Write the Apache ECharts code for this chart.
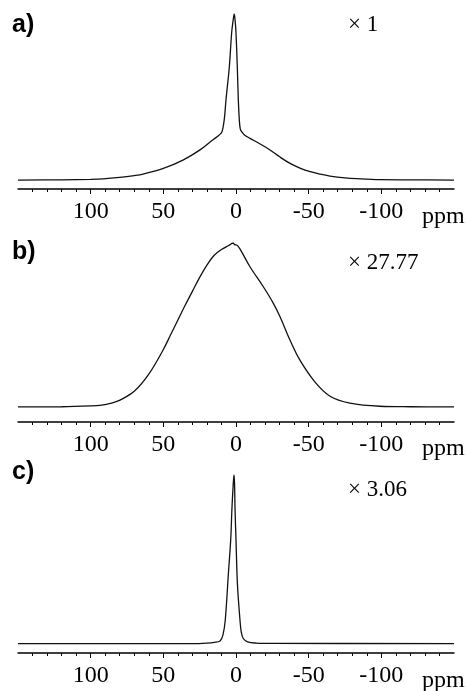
<!DOCTYPE html>
<html>
<head>
<meta charset="utf-8">
<script src="https://cdn.jsdelivr.net/npm/echarts@6/dist/echarts.min.js"></script>
<style>
  html, body { margin: 0; padding: 0; background: #fff; }
  #chart { width: 467px; height: 691px; }
</style>
</head>
<body>
<div id="chart"></div>
<script>
// Chemical shift axis (ppm, decreasing to the right)
const ppmMin = -150;
const ppmMax = 150;
const tickValues = [100, 50, 0, -50, -100];

// Spectrum a) — narrow line on a broad pattern (normalised intensity)
const ppmA = [150, 120, 100, 91.5, 80, 70, 64, 50, 36.5, 25, 17, 11, 9.5, 8, 6.9, 4.6, 3.0, 2.0, 1.2, 0.5, 0, -0.9, -1.6, -2.3, -2.9, -3.9, -6, -9.6, -16, -23.4, -30, -37.2, -44, -51, -58, -64.7, -75, -83, -99, -120, -150];
const valA = [0, 0.001, 0.004, 0.007, 0.016, 0.027, 0.036, 0.07, 0.12, 0.18, 0.235, 0.275, 0.295, 0.37, 0.482, 0.681, 0.886, 0.96, 1.0, 0.95, 0.886, 0.681, 0.482, 0.361, 0.31, 0.291, 0.27, 0.251, 0.22, 0.181, 0.14, 0.10, 0.072, 0.05, 0.035, 0.024, 0.013, 0.008, 0.002, 0.001, 0];

// Spectrum b) — broad line
const ppmB = [150, 120, 100, 93.6, 85, 79.8, 70, 60, 50, 45, 40, 35, 30, 25, 20, 15, 10, 5, 2, 1, -0.5, -3, -9.6, -18.8, -25.7, -30.3, -37.2, -44, -54.4, -64.7, -78.4, -99, -120, -150];
const valB = [0, 0.001, 0.006, 0.01, 0.025, 0.041, 0.095, 0.2, 0.35, 0.44, 0.53, 0.62, 0.705, 0.79, 0.865, 0.925, 0.96, 0.985, 1.0, 0.99, 0.988, 0.96, 0.855, 0.733, 0.632, 0.55, 0.407, 0.285, 0.151, 0.065, 0.023, 0.004, 0.001, 0];

// Spectrum c) — narrow line
const ppmC = [150, 60, 30, 20, 15, 11, 9, 7.4, 5.2, 3.65, 2.75, 2.0, 1.4, 1.0, 0.7, 0, -1, -2.75, -3.6, -5, -8, -14, -25, -150];
const valC = [0, 0, 0, 0.003, 0.007, 0.015, 0.05, 0.138, 0.42, 0.614, 0.81, 0.93, 1.0, 0.95, 0.81, 0.614, 0.35, 0.138, 0.07, 0.03, 0.01, 0.003, 0.001, 0];

// Panel titles and scale factors
const panelLabels = ['a)', 'b)', 'c)'];
const scaleLabels = ['\u00d7 1', '\u00d7 27.77', '\u00d7 3.06'];
const unitLabel = 'ppm';

// [ppm, intensity] pairs, ordered by increasing shift for the line renderer
const pairs = (xs, ys) => xs.map((x, i) => [x, ys[i]]).sort((p, q) => p[0] - q[0]);

const panels = [
  { top: 14, height: 175, yMin: -0.054, data: pairs(ppmA, valA), tagY: 25, scaleY: 25, unitY: 217 },
  { top: 243, height: 179, yMin: -0.092, data: pairs(ppmB, valB), tagY: 252, scaleY: 263, unitY: 449 },
  { top: 475, height: 178, yMin: -0.056, data: pairs(ppmC, valC), tagY: 472, scaleY: 490, unitY: 681 }
];

const serif = '"Liberation Serif", "Times New Roman", serif';
const sans = '"Liberation Sans", Arial, sans-serif';

const option = {
  backgroundColor: '#fff',
  animation: false,
  grid: panels.map(p => ({ left: 18, right: 13, top: p.top, height: p.height })),
  xAxis: panels.map((p, i) => ({
    type: 'value',
    gridIndex: i,
    inverse: true,
    min: ppmMin,
    max: ppmMax,
    interval: 50,
    axisLine: { show: true, onZero: false, lineStyle: { color: '#000', width: 1.5 } },
    axisTick: { show: true, length: 5, customValues: tickValues, lineStyle: { color: '#000', width: 1 } },
    minorTick: { show: true, splitNumber: 5, length: 3, lineStyle: { color: '#000', width: 1 } },
    axisLabel: { customValues: tickValues, margin: 11, color: '#000', fontFamily: serif, fontSize: 24 },
    splitLine: { show: false },
    minorSplitLine: { show: false }
  })),
  yAxis: panels.map((p, i) => ({
    type: 'value',
    gridIndex: i,
    min: p.yMin,
    max: 1,
    show: false,
    splitLine: { show: false }
  })),
  series: panels.map((p, i) => ({
    type: 'line',
    xAxisIndex: i,
    yAxisIndex: i,
    data: p.data,
    showSymbol: false,
    smooth: 0.35,
    lineStyle: { color: '#111', width: 1.3 },
    silent: true
  })),
  graphic: panels.flatMap((p, i) => [
    { type: 'text', x: 12, y: p.tagY, style: { text: panelLabels[i], font: 'bold 25px ' + sans, fill: '#000', verticalAlign: 'middle' } },
    { type: 'text', x: 348, y: p.scaleY, style: { text: scaleLabels[i], font: '23px ' + serif, fill: '#000', verticalAlign: 'middle' } },
    { type: 'text', x: 422, y: p.unitY, style: { text: unitLabel, font: '24px ' + serif, fill: '#000', verticalAlign: 'middle' } }
  ])
};

const chart = echarts.init(document.getElementById('chart'), null, { renderer: 'canvas' });
chart.setOption(option);
</script>
</body>
</html>
